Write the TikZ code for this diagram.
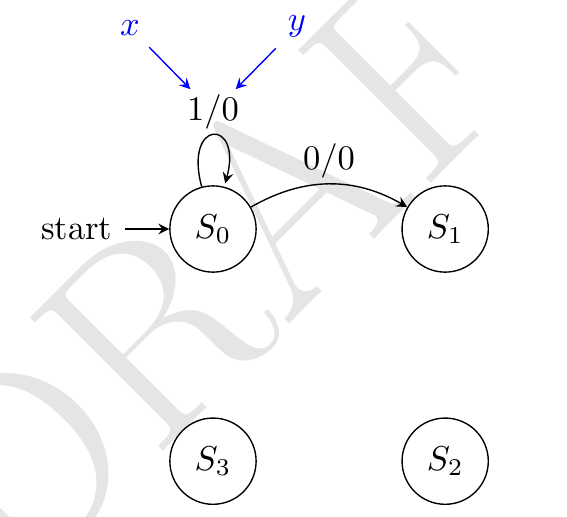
\documentclass[tikz,border=0pt]{standalone}
\usetikzlibrary{arrows,calc}
\begin{document}
\begin{tikzpicture}[x=1pt,y=1pt,>=stealth,
  statenode/.style={draw,circle,minimum size=25pt,inner sep=0pt},
  edgelabel/.style={above,inner sep=1.5pt},
  inlabel/.style={text=blue},
  wmark/.style={rotate=45,anchor=base west,inner sep=0pt,text=black!10,font=\fontsize{80}{80}\selectfont}]
\useasboundingbox (-61.74,-83.48) rectangle (102.61,66.38);
\begin{scope}
\clip (-61.74,-83.48) rectangle (102.61,66.38);
\node[wmark] (wm) at (-57.5,-107.4) {DRAFT};
\end{scope}
\node[statenode] (s0) at (0,0) {$S_0$};
\node[statenode] (s1) at (67.3,0) {$S_1$};
\node[statenode] (s3) at (0,-67.3) {$S_3$};
\node[statenode] (s2) at (67.3,-67.3) {$S_2$};
\node[anchor=east] (start) at ($(s0.west)+(-3ex,0)$) {start};
\draw[->] (start) -- (s0);
\draw[->,shorten >=1pt] (s0) to[out=105,in=75,looseness=8,min distance=5mm] node[edgelabel] (lbl) {$1/0$} (s0);
\draw[->] (s0) to[bend left] node[edgelabel] (l01) {$0/0$} (s1);
\node[inlabel,anchor=base] (xin) at (-24.06,56.23) {$x$};
\node[inlabel,anchor=base] (yin) at (24.35,57.45) {$y$};
\draw[->,blue] (xin) -- (lbl);
\draw[->,blue] (yin) -- (lbl);
\end{tikzpicture}
\end{document}
